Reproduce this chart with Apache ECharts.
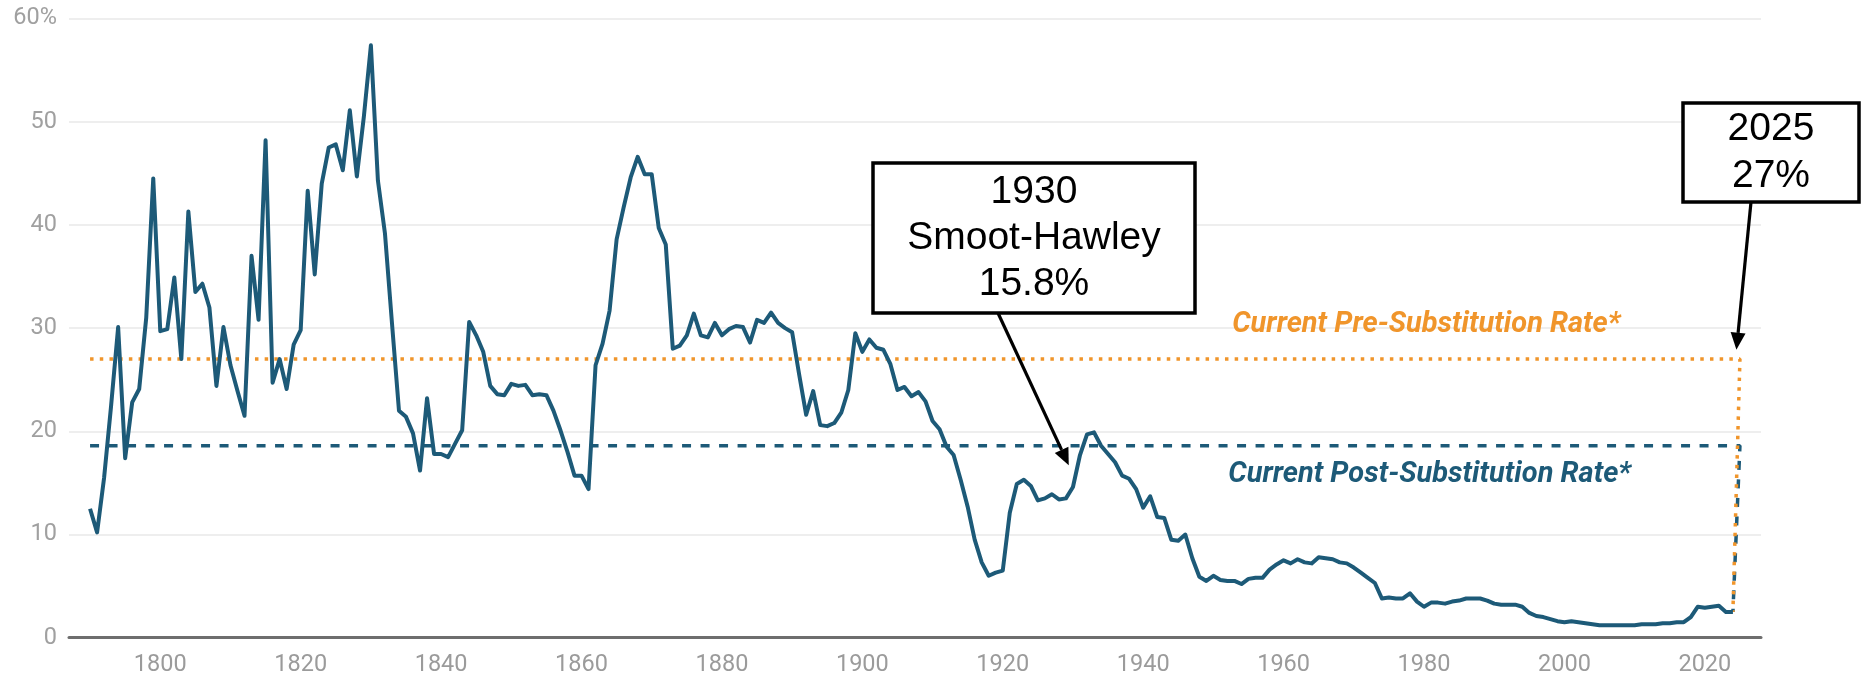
<!DOCTYPE html>
<html>
<head>
<meta charset="utf-8">
<script src="https://cdn.jsdelivr.net/npm/echarts@6/dist/echarts.min.js"></script>
<style>
html,body{margin:0;padding:0;background:#fff;}
#c{width:1869px;height:678px;}
</style>
</head>
<body>
<div id="c"></div>
<script>
// ---------- data ----------
const startYear = 1790;
// average tariff rate (%), one value per year 1790..2024
const rates1790s = [12.5, 10.2, 15.5, 22.5, 30.1, 17.4, 22.8, 24.1, 31.0, 44.5];
const rates1800s = [29.7, 29.9, 34.9, 27.0, 41.3, 33.5, 34.3, 32.0, 24.4, 30.1];
const rates1810s = [26.4, 23.9, 21.5, 37.0, 30.8, 48.2, 24.7, 27.0, 24.1, 28.4];
const rates1820s = [29.8, 43.3, 35.2, 44.0, 47.5, 47.8, 45.3, 51.1, 44.7, 50.5];
const rates1830s = [57.4, 44.3, 39.2, 30.5, 22.0, 21.4, 19.8, 16.2, 23.2, 17.8];
const rates1840s = [17.8, 17.5, 18.8, 20.1, 30.6, 29.3, 27.7, 24.4, 23.6, 23.5];
const rates1850s = [24.6, 24.4, 24.5, 23.5, 23.6, 23.5, 22.0, 20.1, 18.0, 15.7];
const rates1860s = [15.7, 14.4, 26.4, 28.5, 31.7, 38.6, 41.7, 44.6, 46.6, 44.9];
const rates1870s = [44.9, 39.7, 38.1, 28.0, 28.3, 29.3, 31.4, 29.3, 29.1, 30.5];
const rates1880s = [29.3, 29.9, 30.2, 30.1, 28.6, 30.8, 30.5, 31.5, 30.5, 30.0];
const rates1890s = [29.6, 25.5, 21.6, 23.9, 20.6, 20.5, 20.8, 21.8, 24.0, 29.5];
const rates1900s = [27.7, 28.9, 28.1, 27.9, 26.5, 24.0, 24.3, 23.4, 23.8, 22.9];
const rates1910s = [21.0, 20.2, 18.5, 17.7, 15.3, 12.7, 9.5, 7.3, 6.0, 6.3];
const rates1920s = [6.5, 12.1, 14.9, 15.3, 14.7, 13.3, 13.5, 13.9, 13.4, 13.5];
const rates1930s = [14.6, 17.7, 19.7, 19.9, 18.6, 17.8, 17.0, 15.7, 15.4, 14.4];
const rates1940s = [12.6, 13.7, 11.7, 11.6, 9.5, 9.4, 10.0, 7.7, 5.9, 5.5];
const rates1950s = [6.0, 5.6, 5.5, 5.5, 5.2, 5.7, 5.8, 5.8, 6.6, 7.1];
const rates1960s = [7.5, 7.2, 7.6, 7.3, 7.2, 7.8, 7.7, 7.6, 7.3, 7.2];
const rates1970s = [6.8, 6.3, 5.8, 5.3, 3.8, 3.9, 3.8, 3.8, 4.3, 3.5];
const rates1980s = [3.0, 3.4, 3.4, 3.3, 3.5, 3.6, 3.8, 3.8, 3.8, 3.6];
const rates1990s = [3.3, 3.2, 3.2, 3.2, 3.0, 2.4, 2.1, 2.0, 1.8, 1.6];
const rates2000s = [1.5, 1.6, 1.5, 1.4, 1.3, 1.2, 1.2, 1.2, 1.2, 1.2];
const rates2010s = [1.2, 1.3, 1.3, 1.3, 1.4, 1.4, 1.5, 1.5, 2.0, 3.0];
const rates2020s = [2.9, 3.0, 3.1, 2.5, 2.5];

const xTickYears = [1800, 1820, 1840, 1860, 1880, 1900, 1920, 1940, 1960, 1980, 2000, 2020];
const yTickTop = 60;

const currentYear = 2025;
const preSubstitutionRate = 27;
const postSubstitutionRate = 18.6;
const preLabel = 'Current Pre-Substitution Rate*';
const postLabel = 'Current Post-Substitution Rate*';

const smootLines = ['1930', 'Smoot-Hawley', '15.8%'];
const smootTarget = [1929.4, 16.7];
const currentLines = ['2025', '27%'];
const currentTarget = [2024.5, 27.9];

// ---------- build ----------
const rates = [].concat(rates1790s, rates1800s, rates1810s, rates1820s, rates1830s,
  rates1840s, rates1850s, rates1860s, rates1870s, rates1880s, rates1890s, rates1900s,
  rates1910s, rates1920s, rates1930s, rates1940s, rates1950s, rates1960s, rates1970s,
  rates1980s, rates1990s, rates2000s, rates2010s, rates2020s);
const years = rates.map((_, i) => startYear + i);
const lineData = years.map((y, i) => [y, rates[i]]);
const lastYear = years[years.length - 1];
const lastRate = rates[rates.length - 1];

const TEAL = '#1d5a78';
const ORANGE = '#f0952b';
const FONT = 'Roboto, "DejaVu Sans", sans-serif';

const chart = echarts.init(document.getElementById('c'), null, {renderer: 'canvas'});

const option = {
  backgroundColor: '#ffffff',
  animation: false,
  grid: {left: 69, right: 108, top: 18.5, bottom: 40.3, containLabel: false, outerBoundsMode: 'none'},
  xAxis: {
    type: 'value', min: 1787, max: 2028,
    axisLine: {show: true, onZero: false, lineStyle: {color: '#6e6e6e', width: 3}},
    axisTick: {show: false},
    splitLine: {show: false},
    axisLabel: {
      customValues: xTickYears, color: '#9b9b9b', fontSize: 23.5, fontFamily: FONT, margin: 15,
      formatter: v => String(v)
    }
  },
  yAxis: {
    type: 'value', min: 0, max: yTickTop, interval: 10,
    axisLine: {show: false}, axisTick: {show: false},
    splitLine: {lineStyle: {color: '#e8e8e8', width: 1.5}},
    axisLabel: {
      color: '#a0a0a0', fontSize: 23.5, fontFamily: FONT, margin: 12,
      formatter: v => v === yTickTop ? v + '%' : String(v)
    }
  },
  series: [
    {
      type: 'line', data: lineData, showSymbol: false, z: 5,
      lineStyle: {color: TEAL, width: 4, join: 'round'}
    },
    {
      type: 'line', showSymbol: false, z: 3,
      data: [[startYear, postSubstitutionRate], [currentYear, postSubstitutionRate], [lastYear, lastRate]],
      lineStyle: {color: TEAL, width: 3.5, type: [9, 9.5]}
    },
    {
      type: 'line', showSymbol: false, z: 4,
      data: [[startYear, preSubstitutionRate], [currentYear, preSubstitutionRate], [lastYear, lastRate]],
      lineStyle: {color: ORANGE, width: 3.5, type: [3.5, 6.2]}
    }
  ]
};
chart.setOption(option);

function arrow(from, to) {
  const dx = to[0] - from[0], dy = to[1] - from[1];
  const len = Math.sqrt(dx * dx + dy * dy);
  const ux = dx / len, uy = dy / len;
  const head = 17, half = 7.5;
  const bx = to[0] - ux * head, by = to[1] - uy * head;
  return [
    {type: 'line', z: 20, shape: {x1: from[0], y1: from[1], x2: bx, y2: by},
      style: {stroke: '#000', lineWidth: 3.2}},
    {type: 'polygon', z: 20, shape: {points: [[to[0], to[1]], [bx - uy * half, by + ux * half], [bx + uy * half, by - ux * half]]},
      style: {fill: '#000'}}
  ];
}

function box(x, y, w, h, lines, lineH) {
  const els = [{type: 'rect', z: 21, shape: {x: x, y: y, width: w, height: h},
    style: {fill: '#fff', stroke: '#000', lineWidth: 3.5}}];
  const total = lines.length * lineH;
  lines.forEach((t, i) => {
    els.push({type: 'text', z: 22, x: x + w / 2, y: y + (h - total) / 2 + lineH * (i + 0.5),
      style: {text: t, fill: '#000', font: '39px "Liberation Sans", Arial, sans-serif',
        textAlign: 'center', textVerticalAlign: 'middle'}});
  });
  return els;
}

const tip1 = chart.convertToPixel({gridIndex: 0}, smootTarget);
const tip2 = chart.convertToPixel({gridIndex: 0}, currentTarget);
const preLabelPos = chart.convertToPixel({gridIndex: 0}, [2008, 30.3]);
const postLabelPos = chart.convertToPixel({gridIndex: 0}, [2009.5, 15.8]);

const graphics = [].concat(
  arrow([998, 313], tip1),
  arrow([1751, 202], tip2),
  box(873, 163, 322, 150, smootLines, 46),
  box(1683, 103, 176, 99, currentLines, 47),
  [
    {type: 'text', z: 10, x: preLabelPos[0], y: preLabelPos[1],
      style: {text: preLabel, fill: ORANGE, font: 'italic bold 29px Roboto, sans-serif',
        textAlign: 'right', textVerticalAlign: 'middle'}},
    {type: 'text', z: 10, x: postLabelPos[0], y: postLabelPos[1],
      style: {text: postLabel, fill: TEAL, font: 'italic bold 29px Roboto, sans-serif',
        textAlign: 'right', textVerticalAlign: 'middle'}}
  ]
);
chart.setOption({graphic: graphics});
</script>
</body>
</html>
